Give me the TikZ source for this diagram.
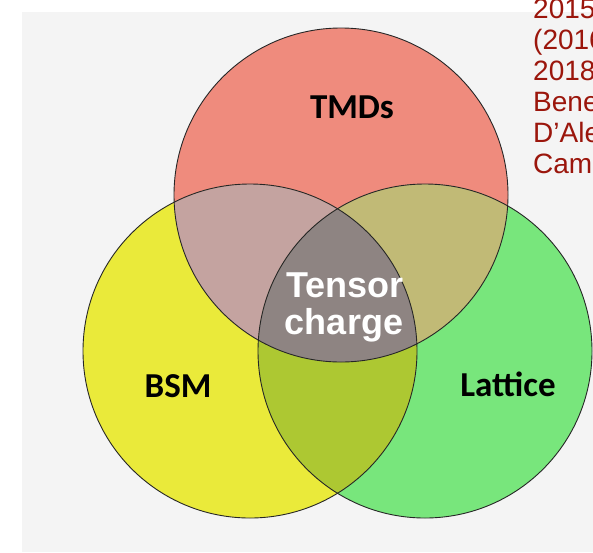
\documentclass[tikz,border=0pt]{standalone}
\usepackage{fontspec}
\setmainfont{Liberation Sans}
\newfontfamily\labelfont{Carlito}

\definecolor{bggray}{RGB}{244,244,244}
\definecolor{tmdred}{RGB}{239,139,125}
\definecolor{bsmyellow}{RGB}{234,234,58}
\definecolor{latgreen}{RGB}{120,230,124}
\definecolor{redyellow}{RGB}{196,163,160}
\definecolor{redgreen}{RGB}{193,186,118}
\definecolor{yellowgreen}{RGB}{173,200,50}
\definecolor{tensorgray}{RGB}{142,132,130}
\definecolor{refred}{RGB}{155,22,12}

\tikzset{
  setlabel/.style={font=\labelfont\bfseries\fontsize{35}{35}\selectfont, text=black, inner sep=0pt},
  corelabel/.style={font=\bfseries\fontsize{36}{36}\selectfont, text=white, inner sep=0pt},
  reftext/.style={font=\fontsize{28}{28}\selectfont, text=refred, inner sep=0pt, anchor=base west},
  rim/.style={draw=black!85, line width=0.9pt}
}

\begin{document}
\begin{tikzpicture}[x=1pt,y=-1pt]
  \def\r{167pt}
  \useasboundingbox (0,0) rectangle (593,552);
  \fill[white] (0,0) rectangle (593,552);
  \fill[bggray] (22,12) rectangle (593,552);

  \coordinate (tmd) at (341,195);
  \coordinate (bsm) at (250,351);
  \coordinate (lat) at (425,351);

  % plain discs
  \fill[tmdred] (tmd) circle [radius=\r];
  \fill[bsmyellow] (bsm) circle [radius=\r];
  \fill[latgreen] (lat) circle [radius=\r];

  % overlaps
  \begin{scope}
    \clip (tmd) circle [radius=\r];
    \fill[redyellow] (bsm) circle [radius=\r];
    \fill[redgreen] (lat) circle [radius=\r];
  \end{scope}
  \begin{scope}
    \clip (bsm) circle [radius=\r];
    \fill[yellowgreen] (lat) circle [radius=\r];
  \end{scope}
  \begin{scope}
    \clip (tmd) circle [radius=\r];
    \clip (bsm) circle [radius=\r];
    \fill[tensorgray] (lat) circle [radius=\r];
  \end{scope}

  \foreach \c in {tmd, bsm, lat} {
    \draw[rim] (\c) circle [radius=\r];
  }

  \node[setlabel, anchor=base] (tmdtext) at (352,118) {TMDs};
  \node[setlabel, anchor=base] (bsmtext) at (178,397) {BSM};
  \node[setlabel, anchor=base] (lattext) at (508,396) {Lattice};
  \node[corelabel, anchor=base] (tensor) at (345,297) {Tensor};
  \node[corelabel, anchor=base] (charge) at (344,334) {charge};

  % references, cut off at the right edge
  \begin{scope}
    \clip (0,0) rectangle (593,552);
    \foreach \t [count=\i] in {2015, {(2016}, 2018, Bened, D’Ale, Camp} {
      \node[reftext] (ref\i) at (533, {18+31*(\i-1)}) {\t};
    }
  \end{scope}
\end{tikzpicture}
\end{document}
